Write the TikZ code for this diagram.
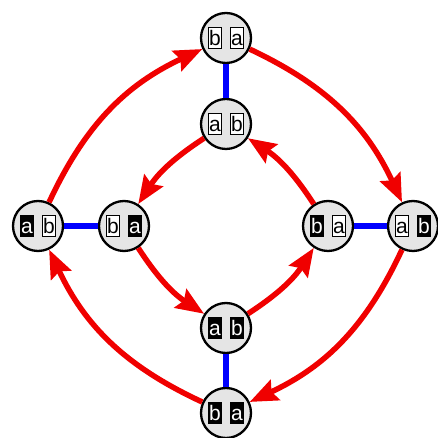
\documentclass[tikz,border=0pt]{standalone}
\usepackage{fontspec}
\setmainfont{Liberation Sans}
\usetikzlibrary{arrows.meta}
\tikzset{
 state/.style={circle, draw=black, line width=2.3pt, fill={rgb,255:red,229;green,229;blue,229}, minimum size=50pt, inner sep=0pt},
 lbox/.style={rectangle, inner sep=0pt, minimum width=13pt, minimum height=21.5pt, text height=15pt, text depth=0pt, font=\fontsize{21}{21}\selectfont, line width=1.1pt, draw=black},
 wbox/.style={lbox, fill=white, text=black},
 bbox/.style={lbox, fill=black, text=white},
 flow/.style={draw={rgb,255:red,240;green,0;blue,0}, line width=5.5pt, -{Stealth[length=28pt,width=22pt,inset=4pt]}},
 link/.style={draw=blue, line width=5.5pt},
}
\newcommand\statenode[7]{%
 \node[state] (#1) at (#2,#3) {};
 \node[#4, xshift=-11pt] (#1-l) at (#1) {#5};
 \node[#6, xshift=11pt] (#1-r) at (#1) {#7};
}
\begin{document}
\begin{tikzpicture}[x=1pt,y=1pt]
\useasboundingbox (0,0) rectangle (438,438);
\statenode{TO}{226}{400}{wbox}{b}{wbox}{a}
\statenode{TI}{226}{314}{wbox}{a}{wbox}{b}
\statenode{LO}{38}{212}{bbox}{a}{wbox}{b}
\statenode{LI}{124}{212}{wbox}{b}{bbox}{a}
\statenode{RI}{328}{212}{bbox}{b}{wbox}{a}
\statenode{RO}{413}{212}{wbox}{a}{bbox}{b}
\statenode{BI}{226}{110}{bbox}{a}{bbox}{b}
\statenode{BO}{226}{25}{bbox}{b}{bbox}{a}
\draw[link] (TO) -- (TI);
\draw[link] (LO) -- (LI);
\draw[link] (RI) -- (RO);
\draw[link] (BI) -- (BO);
\draw[flow] (LO) to[bend left=20] (TO);
\draw[flow] (TO) to[bend left=20] (RO);
\draw[flow] (RO) to[bend left=20] (BO);
\draw[flow] (BO) to[bend left=20] (LO);
\draw[flow] (TI) to[bend right=12] (LI);
\draw[flow] (LI) to[bend right=12] (BI);
\draw[flow] (BI) to[bend right=12] (RI);
\draw[flow] (RI) to[bend right=12] (TI);
\end{tikzpicture}
\end{document}
